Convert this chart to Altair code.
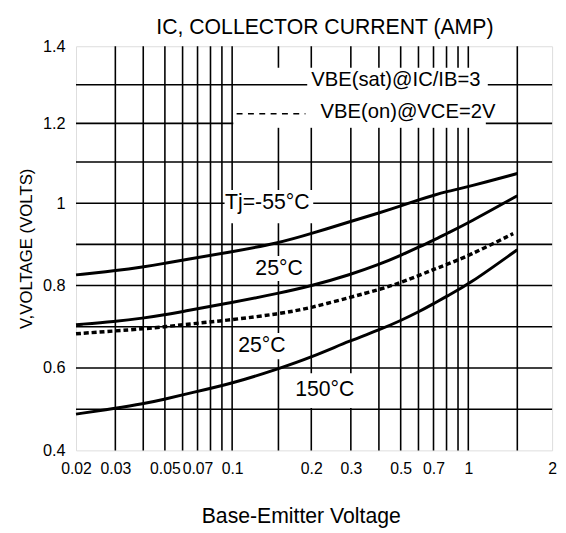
import altair as alt
import pandas as pd

# ---- data ----
X_PTS = [0.02, 0.03, 0.04, 0.05, 0.06, 0.1, 0.15, 0.2, 0.3, 0.4, 0.5, 0.6, 0.7, 0.8, 1.0, 1.5]
TJ_M55 = [0.826, 0.836, 0.845, 0.854, 0.862, 0.882, 0.903, 0.926, 0.956, 0.976, 0.993, 1.008, 1.019, 1.028, 1.040, 1.072]
SAT_25 = [0.705, 0.713, 0.721, 0.729, 0.737, 0.759, 0.781, 0.799, 0.827, 0.851, 0.873, 0.893, 0.910, 0.926, 0.952, 1.018]
SAT_150 = [0.488, 0.502, 0.513, 0.524, 0.535, 0.562, 0.598, 0.626, 0.667, 0.692, 0.715, 0.736, 0.756, 0.774, 0.802, 0.887]
X_ON = [0.02, 0.03, 0.04, 0.05, 0.06, 0.1, 0.15, 0.2, 0.3, 0.4, 0.5, 0.6, 0.7, 0.8, 1.0, 1.45]
ON_25 = [0.683, 0.690, 0.695, 0.700, 0.705, 0.717, 0.731, 0.746, 0.772, 0.790, 0.807, 0.824, 0.839, 0.851, 0.872, 0.926]

X_GRID = [0.03, 0.04, 0.05, 0.06, 0.07, 0.08, 0.09, 0.1, 0.15, 0.2, 0.3, 0.4, 0.5, 0.6, 0.7, 0.8, 0.9, 1.0, 1.5]
Y_GRID = [0.5, 0.6, 0.7, 0.8, 0.9, 1.0, 1.1, 1.2, 1.3]
X_TICKS = [0.02, 0.03, 0.05, 0.07, 0.1, 0.2, 0.3, 0.5, 0.7, 1, 2]
Y_TICKS = [0.4, 0.6, 0.8, 1.0, 1.2, 1.4]

LABEL_TEXT = ["Tj=-55°C", "25°C", "25°C", "150°C"]
LABEL_X = [0.136, 0.1508, 0.1297, 0.2297]
LABEL_Y = [1.0, 0.841, 0.653, 0.547]
LABEL_BOX_X = [0.0925, 0.118, 0.102, 0.1712]
LABEL_BOX_X2 = [0.204, 0.1916, 0.164, 0.315]
LABEL_BOX_Y = [1.032, 0.872, 0.685, 0.587]
LABEL_BOX_Y2 = [0.951, 0.811, 0.621, 0.503]

LEG_TEXT = ["VBE(sat)@IC/IB=3", "VBE(on)@VCE=2V"]
LEG_X = [0.2, 0.22]
LEG_Y = [1.311, 1.2295]
LEG_BOX_X = [0.101, 0.193, 0.101]
LEG_BOX_X2 = [1.48, 1.175, 1.156]
LEG_BOX_Y = [1.3445, 1.335, 1.236]
LEG_BOX_Y2 = [1.1887, 1.28, 1.19]
LEG_DASH_X = [0.104]
LEG_DASH_X2 = [0.19]
LEG_DASH_Y = [1.225]

FONT = "Liberation Sans"

# ---- tables ----
solid = pd.DataFrame({
    "x": X_PTS * 3,
    "y": TJ_M55 + SAT_25 + SAT_150,
    "series": ["-55"] * len(X_PTS) + ["25"] * len(X_PTS) + ["150"] * len(X_PTS),
})
dotted = pd.DataFrame({"x": X_ON, "y": ON_25})
vgrid = pd.DataFrame({"x": X_GRID})
hgrid = pd.DataFrame({"y": Y_GRID})
lab_boxes = pd.DataFrame({"x": LABEL_BOX_X + LEG_BOX_X[1:], "x2": LABEL_BOX_X2 + LEG_BOX_X2[1:],
                          "y": LABEL_BOX_Y + LEG_BOX_Y[1:], "y2": LABEL_BOX_Y2 + LEG_BOX_Y2[1:]})
leg_box = pd.DataFrame({"x": LEG_BOX_X[:1], "x2": LEG_BOX_X2[:1], "y": LEG_BOX_Y[:1], "y2": LEG_BOX_Y2[:1]})
labels = pd.DataFrame({"x": LABEL_X, "y": LABEL_Y, "label": LABEL_TEXT})
legtext = pd.DataFrame({"x": LEG_X, "y": LEG_Y, "label": LEG_TEXT})
legdash = pd.DataFrame({"x": LEG_DASH_X, "x2": LEG_DASH_X2, "y": LEG_DASH_Y})

# ---- scales / axes ----
xscale = alt.Scale(type="log", domain=[0.02, 0.1, 0.2, 1, 2], range=[0, 158.4, 238.7, 398, 483], nice=False)
yscale = alt.Scale(type="linear", domain=[0.4, 1.1, 1.4], range=[410, 117.4, 0], nice=False, zero=False)

x_axis = alt.Axis(values=X_TICKS, format="~g", grid=False, ticks=False, domain=False,
                  labelFontSize=16, labelPadding=10, labelColor="black", labelFlush=False,
                  labelOverlap=False, labelBound=False, labelFont=FONT,
                  title="Base-Emitter Voltage", titleFontSize=21.5, titleFontWeight="normal",
                  titleFont=FONT, titleColor="black", titleX=228, titleY=73,
                  titleAlign="center", titleBaseline="alphabetic")
y_axis = alt.Axis(values=Y_TICKS, format="~g", grid=False, ticks=False, domain=False,
                  labelFontSize=16.5, labelPadding=11, labelColor="black", labelFont=FONT,
                  labelOverlap=False, labelBound=False,
                  title="V,VOLTAGE (VOLTS)", titleFontSize=17, titleFontWeight="normal",
                  titleFont=FONT, titleColor="black", titleX=-45, titleY=205, titleAngle=270,
                  titleAlign="center", titleBaseline="alphabetic")

X = alt.X("x:Q", scale=xscale, axis=x_axis)
Y = alt.Y("y:Q", scale=yscale, axis=y_axis)

GRID_W = 1.6

l_vgrid = alt.Chart(vgrid).mark_rule(color="black", strokeWidth=GRID_W).encode(x=X)
l_legbox = alt.Chart(leg_box).mark_rect(color="white", opacity=1).encode(x=X, x2="x2", y=Y, y2="y2")
l_hgrid = alt.Chart(hgrid).mark_rule(color="black", strokeWidth=GRID_W).encode(y=Y)
l_boxes = alt.Chart(lab_boxes).mark_rect(color="white", opacity=1).encode(x=X, x2="x2", y=Y, y2="y2")
l_solid = alt.Chart(solid).mark_line(color="black", strokeWidth=3, interpolate="basis").encode(
    x=X, y=Y, detail="series:N")
l_dotted = alt.Chart(dotted).mark_line(color="black", strokeWidth=3.5, strokeDash=[5, 3],
                                       interpolate="basis").encode(x=X, y=Y)
l_legdash = alt.Chart(legdash).mark_rule(color="black", strokeWidth=GRID_W, strokeDash=[6, 5.5]).encode(
    x=X, x2="x2", y=Y)
l_labels = alt.Chart(labels).mark_text(color="black", font=FONT, fontSize=21.5, align="center",
                                       baseline="middle").encode(x=X, y=Y, text="label:N")
l_legtext = alt.Chart(legtext).mark_text(color="black", font=FONT, fontSize=20.5, align="left",
                                         baseline="middle").encode(x=X, y=Y, text="label:N")

chart = alt.layer(
    l_vgrid, l_legbox, l_hgrid, l_boxes, l_solid, l_dotted, l_legdash, l_labels, l_legtext
).properties(
    width=483, height=410,
    title=alt.Title("IC, COLLECTOR CURRENT (AMP)", font=FONT, fontSize=21.5, fontWeight="normal",
                    color="black", anchor="middle", frame="group", dx=11, dy=28, offset=11,
                    baseline="alphabetic"),
    padding={"left": 69, "top": 35, "right": 6, "bottom": 79},
    autosize=alt.AutoSizeParams(type="none"),
).configure_view(stroke="black", strokeWidth=2).configure(background="white")

chart.save("out.html", embed_options={"renderer": "svg", "actions": False})
